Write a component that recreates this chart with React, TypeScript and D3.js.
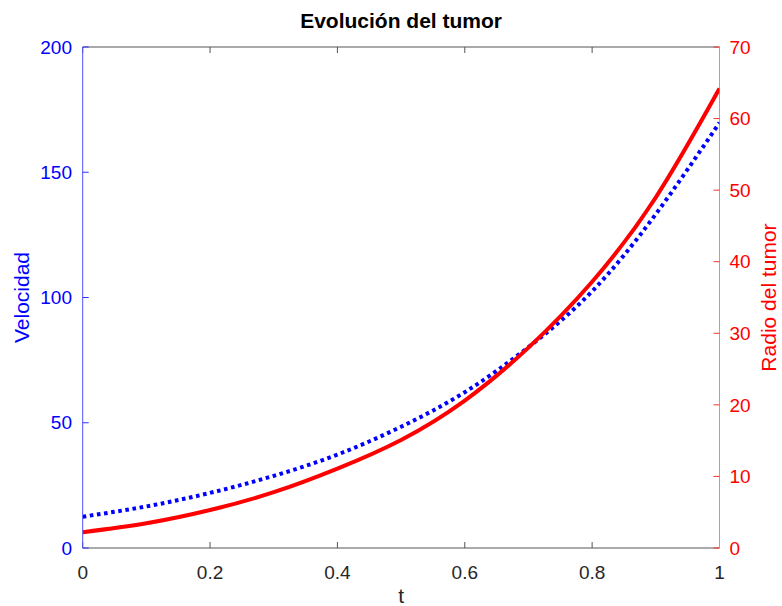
import React from "react";
import * as d3 from "d3";

const tValues = [0, 0.1, 0.2, 0.3, 0.4, 0.5, 0.6, 0.7, 0.8, 0.9, 1.0];
const velocidad = [12.5, 16.6, 22.0, 28.8, 37.3, 48.4, 62.2, 80.2, 102.5, 133.3, 169.8];
const radio = [2.2, 3.45, 5.3, 7.8, 11.1, 15.1, 20.6, 28.0, 37.2, 49.0, 64.2];
const xTicks = [0, 0.2, 0.4, 0.6, 0.8, 1];
const xTickLabels = ["0", "0.2", "0.4", "0.6", "0.8", "1"];
const leftTicks = [0, 50, 100, 150, 200];
const rightTicks = [0, 10, 20, 30, 40, 50, 60, 70];

const W = 782;
const H = 606;
const L = 82.7;
const R = 719.5;
const T = 47;
const B = 548;
const FONT = "'Liberation Sans', Arial, Helvetica, sans-serif";
const BLUE = "#0000ff";
const RED = "#ff0000";

export default function App() {
  const x = d3.scaleLinear().domain([0, 1]).range([L, R]);
  const yL = d3.scaleLinear().domain([0, 200]).range([B, T]);
  const yR = d3.scaleLinear().domain([0, 70]).range([B, T]);

  const lineV = d3
    .line<number>()
    .x((_, i) => x(tValues[i]))
    .y((d) => yL(d))
    .curve(d3.curveNatural);
  const lineR = d3
    .line<number>()
    .x((_, i) => x(tValues[i]))
    .y((d) => yR(d))
    .curve(d3.curveNatural);

  const tick = 6;

  return (
    <svg
      width={W}
      height={H}
      style={{ position: "absolute", left: 0, top: 0, background: "#fff" }}
      fontFamily={FONT}
    >
      <rect x={0} y={0} width={W} height={H} fill="#fff" />
      <defs>
        <clipPath id="plot">
          <rect x={L} y={T - 3} width={R - L} height={B - T + 3} />
        </clipPath>
      </defs>

      {/* top & bottom axes */}
      <line x1={L} x2={R} y1={B} y2={B} stroke="#555" strokeWidth={1} />
      <line x1={L} x2={R} y1={T} y2={T} stroke="#555" strokeWidth={1} />
      {xTicks.map((t, i) => (
        <g key={"xt" + i}>
          <line x1={x(t)} x2={x(t)} y1={B} y2={B - tick} stroke="#555" />
          <line x1={x(t)} x2={x(t)} y1={T} y2={T + tick} stroke="#555" />
          <text
            x={x(t)}
            y={579}
            textAnchor="middle"
            fontSize={19}
            fill="#262626"
          >
            {xTickLabels[i]}
          </text>
        </g>
      ))}
      <text x={(L + R) / 2} y={603} textAnchor="middle" fontSize={21} fill="#262626">
        t
      </text>

      {/* left axis */}
      <line x1={L} x2={L} y1={T} y2={B} stroke="#5050ff" strokeWidth={1} />
      {leftTicks.map((v) => (
        <g key={"yl" + v}>
          <line x1={L} x2={L + tick} y1={yL(v)} y2={yL(v)} stroke="#3030ff" />
          <text
            x={72}
            y={yL(v)}
            dy="0.35em"
            textAnchor="end"
            fontSize={19}
            fill={BLUE}
          >
            {v}
          </text>
        </g>
      ))}
      <text
        transform={`translate(28.5, ${(T + B) / 2}) rotate(-90)`}
        textAnchor="middle"
        fontSize={21}
        fill={BLUE}
      >
        Velocidad
      </text>

      {/* right axis */}
      <line x1={R} x2={R} y1={T} y2={B} stroke="#ff8080" strokeWidth={1} />
      {rightTicks.map((v) => (
        <g key={"yr" + v}>
          <line x1={R} x2={R - tick} y1={yR(v)} y2={yR(v)} stroke="#ff3030" />
          <text
            x={729.5}
            y={yR(v)}
            dy="0.35em"
            textAnchor="start"
            fontSize={19}
            fill={RED}
          >
            {v}
          </text>
        </g>
      ))}
      <text
        transform={`translate(776, ${(T + B) / 2}) rotate(-90)`}
        textAnchor="middle"
        fontSize={21}
        fill={RED}
      >
        Radio del tumor
      </text>

      {/* series */}
      <g clipPath="url(#plot)">
        <path
          d={lineV(velocidad) || ""}
          fill="none"
          stroke={BLUE}
          strokeWidth={4}
          strokeDasharray="3.6 3.6"
        />
        <path d={lineR(radio) || ""} fill="none" stroke={RED} strokeWidth={4} />
      </g>

      {/* title */}
      <text
        x={(L + R) / 2}
        y={28}
        textAnchor="middle"
        fontSize={21}
        fontWeight="bold"
        fill="#000"
      >
        Evolución del tumor
      </text>
    </svg>
  );
}
